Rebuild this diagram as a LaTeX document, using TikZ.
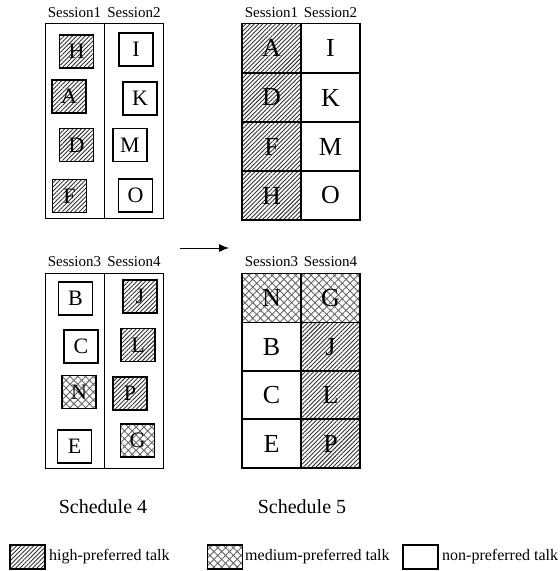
\documentclass[tikz,border=0pt]{standalone}
\usepackage{fontspec}
\setmainfont{Liberation Serif}
\usetikzlibrary{arrows.meta, patterns.meta}

\begin{document}
\begin{tikzpicture}[
    x=1pt, y=-1pt,
    talk/.style={draw, line width=1.7pt, minimum width=34pt, minimum height=33pt,
                 inner sep=0pt, font=\fontsize{22}{22}\selectfont},
    slot/.style={talk, minimum width=59pt, minimum height=49pt,
                 font=\fontsize{26}{26}\selectfont},
    key/.style={talk, minimum width=35pt, minimum height=24pt},
    high/.style={pattern={Lines[angle=45, distance=3pt, line width=0.9pt]},
                 pattern color=black!80},
    medium/.style={pattern={Hatch[angle=45, distance=5.5pt, line width=0.9pt]},
                   pattern color=black!60},
    session/.style={font=\fontsize{15}{15}\selectfont},
    caption/.style={font=\fontsize{20}{20}\selectfont},
    legend/.style={anchor=west, inner sep=0pt, font=\fontsize{16}{16}\selectfont},
    frame/.style={line width=0.8pt},
]
    \useasboundingbox (0,0) rectangle (560,571);

    % Schedule 4, sessions 1 and 2
    \node[session] (s4t1) at (74.5,13) {Session1};
    \node[session] (s4t2) at (134,13)  {Session2};
    \draw[frame] (45,23) rectangle (163,218) (104,23) -- (104,218);
    \node[talk, high] (s4H) at (76.5,51.5) {H};
    \node[talk, high] (s4A) at (69,96.5)   {A};
    \node[talk, high] (s4D) at (76.5,145)  {D};
    \node[talk, high] (s4F) at (69.5,196)  {F};
    \node[talk] (s4I) at (136,49.5)  {I};
    \node[talk] (s4K) at (140,98.5)  {K};
    \node[talk] (s4M) at (130,145)   {M};
    \node[talk] (s4O) at (135.5,195.5) {O};

    % Schedule 4, sessions 3 and 4
    \node[session] (s4t3) at (74.5,262) {Session3};
    \node[session] (s4t4) at (134,262)  {Session4};
    \draw[frame] (45,273) rectangle (163,468) (104,273) -- (104,468);
    \node[talk] (s4B) at (75.5,298.5) {B};
    \node[talk] (s4C) at (81,346.5)   {C};
    \node[talk, medium] (s4N) at (79,392) {N};
    \node[talk] (s4E) at (74.5,446.5) {E};
    \node[talk, high] (s4J) at (140,296.5) {J};
    \node[talk, high] (s4L) at (138,345)   {L};
    \node[talk, high] (s4P) at (130,393.5) {P};
    \node[talk, medium] (s4G) at (137.5,440.5) {G};

    % Schedule 5, sessions 1 and 2
    \node[session] (s5t1) at (271.5,13) {Session1};
    \node[session] (s5t2) at (330.5,13) {Session2};
    \node[slot, high] (s5A) at (271.5,48)    {A};
    \node[slot, high] (s5D) at (271.5,97.5)  {D};
    \node[slot, high] (s5F) at (271.5,146.5) {F};
    \node[slot, high] (s5H) at (271.5,195.5) {H};
    \node[slot] (s5I) at (330.5,48)    {I};
    \node[slot] (s5K) at (330.5,97.5)  {K};
    \node[slot] (s5M) at (330.5,146.5) {M};
    \node[slot] (s5O) at (330.5,195.5) {O};

    % Schedule 5, sessions 3 and 4
    \node[session] (s5t3) at (271.5,262) {Session3};
    \node[session] (s5t4) at (330.5,262) {Session4};
    \node[slot, medium] (s5N) at (271.5,298) {N};
    \node[slot] (s5B) at (271.5,347)   {B};
    \node[slot] (s5C) at (271.5,395)   {C};
    \node[slot] (s5E) at (271.5,443.5) {E};
    \node[slot, medium] (s5G) at (330.5,298) {G};
    \node[slot, high] (s5J) at (330.5,347)   {J};
    \node[slot, high] (s5L) at (330.5,395)   {L};
    \node[slot, high] (s5P) at (330.5,443.5) {P};

    % Rescheduling step
    \coordinate (from) at (180,248);
    \coordinate (to)   at (229,248);
    \draw[-{Latex[length=10pt, width=8pt]}, line width=0.9pt] (from) -- (to);

    % Captions
    \node[caption] (cap4) at (103,507) {Schedule 4};
    \node[caption] (cap5) at (302,507) {Schedule 5};

    % Legend
    \node[key, high]   (keyhigh) at (27.5,557) {};
    \node[legend] (txthigh) at (49,557) {high-preferred talk};
    \node[key, medium] (keymed)  at (225,557)  {};
    \node[legend] (txtmed) at (245,557) {medium-preferred talk};
    \node[key]         (keynon)  at (420.5,557) {};
    \node[legend] (txtnon) at (442,557) {non-preferred talk};
\end{tikzpicture}
\end{document}
